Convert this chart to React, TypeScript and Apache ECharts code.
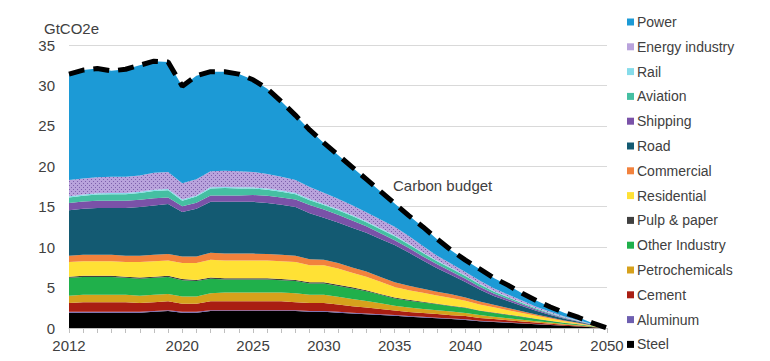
import React, { useEffect, useRef } from "react";
import * as echarts from "echarts";

const years: string[] = [
  "2012","2013","2014","2015","2016","2017","2018","2019","2020","2021","2022","2023","2024",
  "2025","2026","2027","2028","2029","2030","2031","2032","2033","2034","2035","2036","2037",
  "2038","2039","2040","2041","2042","2043","2044","2045","2046","2047","2048","2049","2050",
];
const xLabelYears: string[] = ["2012", "2020", "2025", "2030", "2035", "2040", "2045", "2050"];

const steel = [1.9,1.9,1.9,1.9,1.9,1.9,2.0,2.1,1.9,1.9,2.1,2.1,2.1,2.1,2.1,2.1,2.1,2.0,2.0,1.9,1.8,1.7,1.6,1.5,1.4,1.3,1.2,1.1,1.0,0.85,0.75,0.65,0.55,0.45,0.36,0.27,0.18,0.09,0];
const aluminum = [0.1,0.1,0.1,0.1,0.1,0.1,0.1,0.1,0.1,0.1,0.1,0.1,0.1,0.1,0.1,0.1,0.1,0.1,0.1,0.1,0.1,0.1,0.1,0.1,0.08,0.08,0.08,0.07,0.07,0.06,0.05,0.05,0.04,0.04,0.03,0.02,0.02,0.01,0];
const cement = [1.1,1.2,1.2,1.2,1.2,1.1,1.1,1.1,1.0,1.0,1.1,1.1,1.1,1.1,1.1,1.1,1.0,1.0,1.0,0.9,0.8,0.75,0.65,0.55,0.5,0.48,0.45,0.42,0.4,0.34,0.3,0.26,0.22,0.18,0.14,0.1,0.07,0.03,0];
const petrochemicals = [0.9,0.9,0.9,0.9,0.9,0.9,0.9,0.9,0.9,0.9,1.0,1.1,1.1,1.1,1.1,1.1,1.1,1.0,1.0,0.95,0.9,0.8,0.7,0.6,0.55,0.5,0.48,0.45,0.4,0.35,0.3,0.26,0.22,0.18,0.14,0.1,0.07,0.03,0];
const otherIndustry = [2.2,2.2,2.2,2.2,2.1,2.1,2.1,2.1,2.0,1.9,1.8,1.6,1.6,1.6,1.6,1.5,1.5,1.4,1.4,1.35,1.3,1.2,1.05,0.9,0.85,0.8,0.72,0.65,0.6,0.52,0.46,0.4,0.34,0.27,0.2,0.14,0.09,0.05,0];
const pulpPaper = [0.15,0.15,0.15,0.15,0.15,0.15,0.15,0.15,0.15,0.15,0.15,0.15,0.15,0.15,0.15,0.15,0.15,0.15,0.15,0.15,0.14,0.13,0.12,0.11,0.1,0.09,0.08,0.07,0.06,0.05,0.05,0.04,0.04,0.03,0.03,0.02,0.02,0.01,0];
const residential = [1.8,1.8,1.8,1.8,1.8,1.9,1.9,1.9,2.0,2.1,2.2,2.2,2.2,2.2,2.2,2.2,2.2,2.1,2.1,2.0,1.8,1.65,1.5,1.3,1.2,1.1,1.0,0.95,0.85,0.75,0.65,0.55,0.45,0.35,0.26,0.18,0.12,0.06,0];
const commercial = [0.8,0.8,0.8,0.8,0.8,0.8,0.8,0.8,0.8,0.8,0.85,0.85,0.85,0.85,0.8,0.8,0.8,0.75,0.7,0.7,0.65,0.65,0.6,0.6,0.55,0.5,0.48,0.45,0.4,0.35,0.3,0.26,0.22,0.18,0.14,0.1,0.07,0.03,0];
const road = [5.6,5.7,5.8,5.8,5.9,6.0,6.1,6.2,5.5,5.9,6.3,6.4,6.4,6.4,6.3,6.2,6.0,5.7,5.2,5.0,4.9,4.8,4.7,4.6,4.1,3.5,2.9,2.4,1.9,1.5,1.1,0.88,0.65,0.45,0.32,0.22,0.14,0.07,0];
const shipping = [0.9,0.9,0.9,0.9,0.9,0.9,0.9,0.8,0.7,0.75,0.8,0.8,0.8,0.85,0.9,0.9,0.95,1.0,1.0,0.95,0.9,0.8,0.7,0.6,0.55,0.5,0.48,0.44,0.4,0.34,0.3,0.25,0.2,0.15,0.11,0.08,0.05,0.02,0];
const aviation = [0.7,0.7,0.75,0.8,0.8,0.85,0.9,0.9,0.7,0.75,0.85,0.9,0.85,0.8,0.75,0.7,0.65,0.6,0.55,0.55,0.55,0.5,0.5,0.5,0.45,0.42,0.4,0.37,0.35,0.3,0.26,0.21,0.17,0.13,0.1,0.07,0.05,0.02,0];
const rail = [0.15,0.15,0.15,0.15,0.15,0.15,0.15,0.15,0.15,0.15,0.15,0.15,0.15,0.15,0.15,0.15,0.15,0.15,0.14,0.14,0.13,0.12,0.11,0.1,0.09,0.08,0.07,0.07,0.06,0.05,0.05,0.04,0.04,0.03,0.03,0.02,0.02,0.01,0];
const energyIndustry = [2.0,2.0,2.0,2.0,2.0,2.0,2.1,2.1,2.0,2.0,2.0,2.0,2.0,1.9,1.8,1.7,1.6,1.5,1.4,1.3,1.2,1.1,1.1,1.05,0.95,0.8,0.6,0.5,0.45,0.4,0.35,0.3,0.25,0.2,0.15,0.1,0.07,0.03,0];
const power = [13.1,13.4,13.45,13.1,13.3,13.65,13.8,13.6,12.0,12.8,12.3,12.25,12.0,11.4,10.55,9.3,8.0,7.05,6.15,5.4,4.7,4.1,3.45,2.9,2.55,2.35,2.05,1.65,1.45,1.45,1.25,1.15,0.9,0.75,0.6,0.45,0.33,0.14,0];
const carbonBudget = [31.4,31.9,32.1,31.8,32.0,32.5,33.0,32.9,29.9,31.2,31.7,31.7,31.4,30.7,29.6,28.0,26.3,24.5,22.9,21.4,19.9,18.4,16.9,15.4,13.9,12.5,11.0,9.6,8.4,7.3,6.2,5.3,4.3,3.4,2.6,1.9,1.3,0.6,0];

const yTicks = [0, 5, 10, 15, 20, 25, 30, 35];

// bottom-to-top stacking order
const layers: { name: string; data: number[]; color: string }[] = [
  { name: "Steel", data: steel, color: "#000000" },
  { name: "Aluminum", data: aluminum, color: "#6e5fb0" },
  { name: "Cement", data: cement, color: "#a91e12" },
  { name: "Petrochemicals", data: petrochemicals, color: "#d6a11c" },
  { name: "Other Industry", data: otherIndustry, color: "#20b04b" },
  { name: "Pulp & paper", data: pulpPaper, color: "#404040" },
  { name: "Residential", data: residential, color: "#ffe135" },
  { name: "Commercial", data: commercial, color: "#f2823d" },
  { name: "Road", data: road, color: "#135a72" },
  { name: "Shipping", data: shipping, color: "#7a52a8" },
  { name: "Aviation", data: aviation, color: "#45bfa2" },
  { name: "Rail", data: rail, color: "#86dcea" },
  { name: "Energy industry", data: energyIndustry, color: "#b9a3dc" },
  { name: "Power", data: power, color: "#1c9ad6" },
];

function makeDotPattern(): any {
  const c = document.createElement("canvas");
  c.width = 4;
  c.height = 4;
  const ctx = c.getContext("2d");
  if (!ctx) return "#b9a3dc";
  ctx.fillStyle = "#b9a3dc";
  ctx.fillRect(0, 0, 4, 4);
  ctx.fillStyle = "#7d60ac";
  ctx.fillRect(1, 1, 1, 1);
  ctx.fillRect(3, 3, 1, 1);
  return { image: c, repeat: "repeat" };
}

export default function App() {
  const ref = useRef<HTMLDivElement>(null);

  useEffect(() => {
    document.body.style.margin = "0";
    if (!ref.current) return;
    const chart = echarts.init(ref.current, undefined, { renderer: "svg" });
    const font = "'Liberation Sans', Arial, sans-serif";
    const textColor = "#404040";
    const dotPattern = makeDotPattern();

    const series: any[] = layers.map((l) => ({
      name: l.name,
      type: "line",
      stack: "total",
      data: l.data,
      showSymbol: false,
      symbol: "none",
      lineStyle: { width: 0, color: l.color },
      itemStyle: { color: l.color },
      areaStyle: {
        opacity: 1,
        color: l.name === "Energy industry" ? dotPattern : l.color,
      },
      emphasis: { disabled: true },
    }));

    series.push({
      name: "Carbon budget",
      type: "line",
      data: carbonBudget,
      showSymbol: false,
      symbol: "none",
      z: 10,
      lineStyle: { color: "#000000", width: 5, type: [16, 9], cap: "butt" },
      emphasis: { disabled: true },
    });

    const legendOrder = [...layers].reverse().map((l) => ({
      name: l.name,
      icon: "rect",
      itemStyle: { color: l.color },
    }));

    chart.setOption({
      animation: false,
      textStyle: { fontFamily: font },
      grid: { left: 69, right: 163, top: 45, bottom: 33, containLabel: false },
      legend: {
        orient: "vertical",
        left: 627,
        top: 15,
        padding: 0,
        itemWidth: 7,
        itemHeight: 7,
        itemGap: 10.8,
        data: legendOrder,
        selectedMode: false,
        textStyle: {
          fontSize: 14,
          color: textColor,
          fontFamily: font,
          lineHeight: 14,
          padding: [0, 0, 0, -2],
        },
      },
      xAxis: {
        type: "category",
        data: years,
        boundaryGap: false,
        axisLine: { show: true, lineStyle: { color: "#bfbfbf", width: 1 } },
        axisTick: { show: true, interval: 0, length: 5, lineStyle: { color: "#bfbfbf" } },
        axisLabel: {
          interval: (idx: number, val: string) => xLabelYears.indexOf(val) >= 0,
          fontSize: 15,
          color: textColor,
          margin: 10,
          fontFamily: font,
        },
        splitLine: { show: false },
      },
      yAxis: {
        type: "value",
        min: yTicks[0],
        max: yTicks[yTicks.length - 1],
        interval: 5,
        axisLine: { show: false },
        axisTick: { show: false },
        axisLabel: { fontSize: 15, color: textColor, margin: 14, fontFamily: font },
        splitLine: { show: true, lineStyle: { color: "#d9d9d9", width: 1 } },
      },
      graphic: [
        {
          type: "text",
          left: 44,
          top: 21,
          style: { text: "GtCO2e", fontSize: 15, fill: textColor, fontFamily: font },
        },
        {
          type: "text",
          left: 393,
          top: 178,
          style: { text: "Carbon budget", fontSize: 15, fill: textColor, fontFamily: font },
        },
      ],
      series,
    });

    return () => chart.dispose();
  }, []);

  return <div ref={ref} style={{ width: 770, height: 361 }} />;
}
